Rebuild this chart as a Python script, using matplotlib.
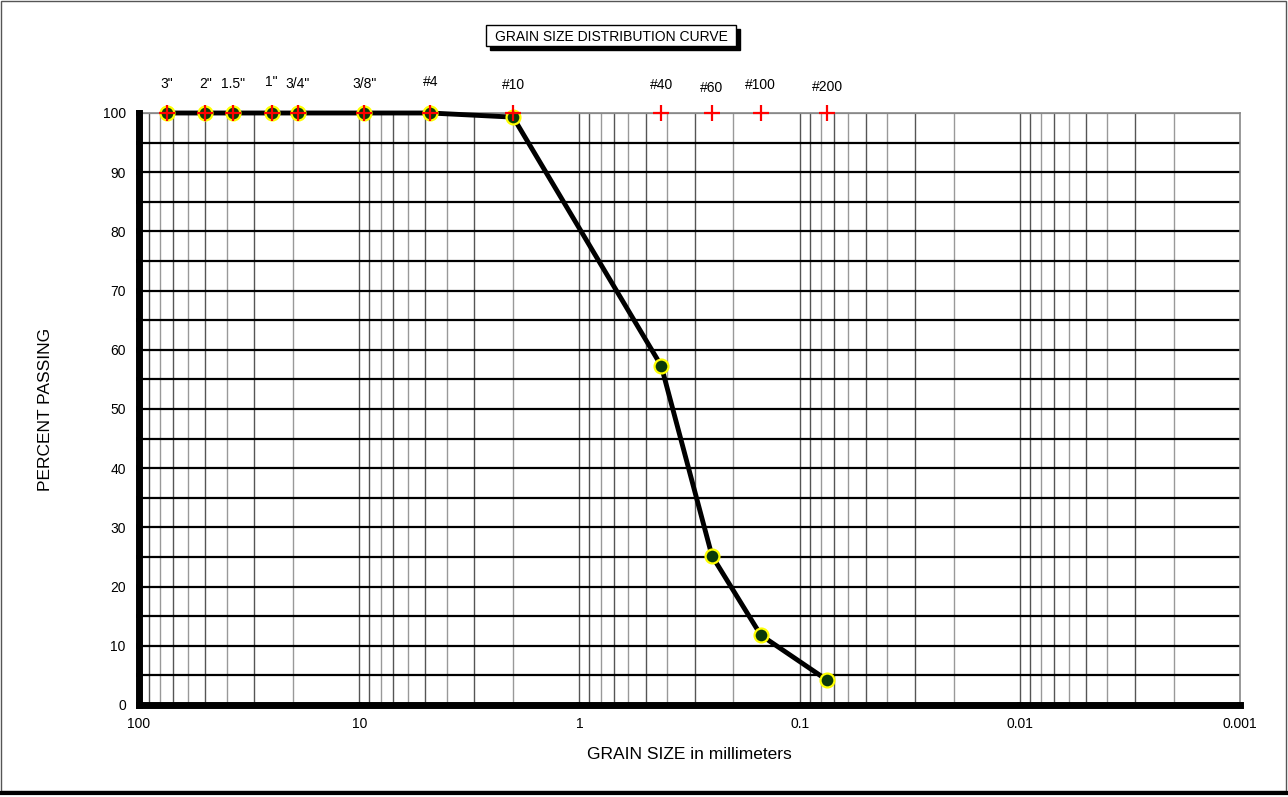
import matplotlib.pyplot as plt
from matplotlib.patches import Rectangle
from matplotlib.lines import Line2D
from matplotlib.ticker import FixedLocator, NullFormatter

plt.rcParams['font.family'] = ['Liberation Sans', 'DejaVu Sans']

# sieve openings (mm) and names
sieve_names = ['3"', '2"', '1.5"', '1"', '3/4"', '3/8"', '#4', '#10', '#40', '#60', '#100', '#200']
sieve_mm = [75.0, 50.0, 37.5, 25.0, 19.0, 9.5, 4.75, 2.0, 0.425, 0.25, 0.15, 0.075]
# label height above the plot (in percent units)
label_y = [104.9, 104.9, 104.9, 105.3, 104.9, 104.9, 105.3, 104.7, 104.7, 104.2, 104.7, 104.4]

# measured percent passing
pct_passing = [100, 100, 100, 100, 100, 100, 100, 99.3, 57.3, 25.2, 11.8, 4.2]

x_ticks = [100, 10, 1, 0.1, 0.01, 0.001]
x_tick_labels = ['100', '10', '1', '0.1', '0.01', '0.001']

fig = plt.figure(figsize=(12.88, 7.97), dpi=100)
ax = fig.add_axes([139 / 1288, 1 - 705 / 797, (1240 - 139) / 1288, (705 - 113) / 797])

ax.set_xscale('log')
ax.set_xlim(100, 0.001)
ax.set_ylim(0, 100)

# vertical log grid
minor = [m * 10.0 ** e for e in range(-3, 2) for m in range(2, 10)]
for i, v in enumerate(minor):
    ax.axvline(v, color='#555555' if i % 2 else '#999999', lw=1.0, zorder=1)
for v in [10, 1, 0.1, 0.01]:
    ax.axvline(v, color='#555555', lw=1.0, zorder=1)

# horizontal grid every 5 %
for y in range(5, 100, 5):
    ax.axhline(y, color='black', lw=1.6, zorder=1)
ax.axhline(100, color='#888888', lw=1.6, zorder=1)

ax.set_xticks(x_ticks)
ax.set_xticklabels(x_tick_labels)
ax.xaxis.set_minor_locator(FixedLocator([]))
ax.xaxis.set_minor_formatter(NullFormatter())
ax.set_yticks(range(0, 101, 10))
ax.set_yticks(range(5, 100, 10), minor=True)
ax.tick_params(axis='both', which='major', direction='inout', length=5, width=4,
               labelsize=10, color='black')
ax.tick_params(axis='y', which='minor', direction='inout', length=4, width=3, color='black')
ax.tick_params(axis='y', pad=7)
ax.tick_params(axis='x', pad=6)

for s in ['top', 'right']:
    ax.spines[s].set_color('#888888')
    ax.spines[s].set_linewidth(1.2)
ax.spines['left'].set_linewidth(5)
ax.spines['bottom'].set_linewidth(5)
ax.spines['left'].set_zorder(4)
ax.spines['bottom'].set_zorder(4)

# curve
ax.plot(sieve_mm, pct_passing, color='black', lw=3.5, zorder=5, clip_on=False)
ax.plot(sieve_mm, pct_passing, 'o', ms=10, mfc='#0a3a0a', mec='yellow', mew=1.6,
        zorder=6, clip_on=False)

# sieve markers and labels
ax.plot(sieve_mm, [100] * len(sieve_mm), '+', ms=11, mew=1.6, color='red', zorder=7, clip_on=False)
for name, d, ly in zip(sieve_names, sieve_mm, label_y):
    ax.text(d, ly, name, ha='center', va='center', fontsize=10, clip_on=False)

ax.set_xlabel('GRAIN SIZE in millimeters', fontsize=12.5, labelpad=12)
ax.set_ylabel('PERCENT PASSING', fontsize=12.5, labelpad=36)

# title box with shadow
bx, by, bw, bh = 486 / 1288, 1 - 46 / 797, 250 / 1288, 21 / 797
fig.patches.append(Rectangle((bx + 4 / 1288, by - 4 / 797), bw, bh, transform=fig.transFigure,
                             facecolor='black', edgecolor='black', zorder=1))
fig.patches.append(Rectangle((bx, by), bw, bh, transform=fig.transFigure,
                             facecolor='white', edgecolor='black', lw=1, zorder=2))
fig.text(bx + bw / 2, by + bh / 2, 'GRAIN SIZE DISTRIBUTION CURVE', ha='center', va='center_baseline',
         fontsize=10, zorder=3)

# outer frame
fig.patches.append(Rectangle((1 / 1288, 6 / 797), 1285 / 1288, 790 / 797, transform=fig.transFigure,
                             facecolor='none', edgecolor='#555555', lw=1))
fig.lines.append(Line2D([0, 1], [4 / 797, 4 / 797], transform=fig.transFigure, color='black', lw=3))

fig.savefig('out.png', dpi=100)
